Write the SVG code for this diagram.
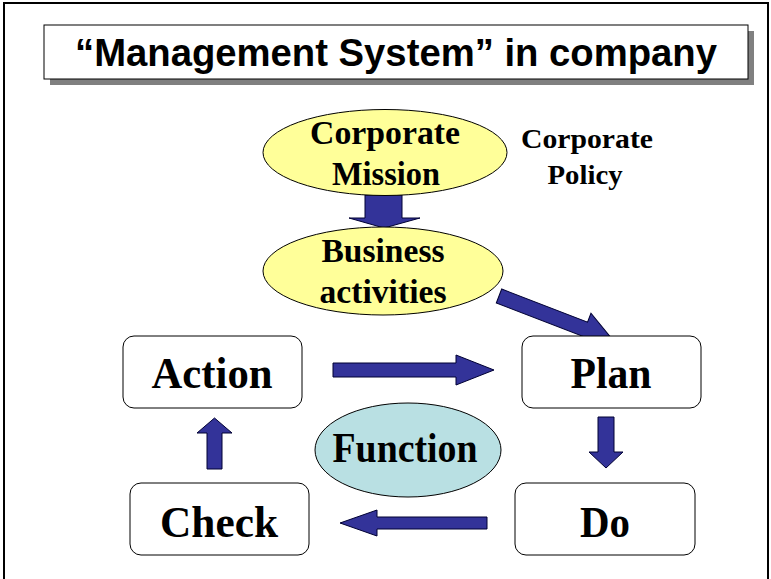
<svg xmlns="http://www.w3.org/2000/svg" width="771" height="579" viewBox="0 0 771 579">
<defs>
<style>
.box{fill:#ffffff;stroke:#000000;stroke-width:1}
.yel{fill:#ffff99;stroke:#000000;stroke-width:1}
.cyan{fill:#b9e0e3;stroke:#000000;stroke-width:1}
.arr{fill:#333399;stroke:#000033;stroke-width:1;stroke-linejoin:miter}
.t{font-family:"Liberation Serif","Times New Roman",serif;font-weight:bold;text-anchor:middle;fill:#000000}
.title{font-family:"Liberation Sans",Arial,sans-serif;font-weight:bold;font-size:38px;text-anchor:middle;fill:#000000}
</style>
</defs>
<rect x="0" y="0" width="771" height="579" fill="#ffffff"/>
<rect x="4" y="3" width="764" height="600" fill="none" stroke="#000000" stroke-width="2"/>

<g id="title">
<rect x="50" y="31" width="704" height="54" fill="#808080"/>
<rect x="44" y="25" width="704" height="54" class="box"/>
<text x="396" y="66" class="title" textLength="642" lengthAdjust="spacingAndGlyphs">“Management System” in company</text>
</g>

<g id="connectors">
<polygon class="arr" points="365,195 402,195 402,218 420,218 384,228 349,218 365,218"/>
<g transform="translate(499,296) rotate(21.1)">
<polygon class="arr" points="0,-7.5 92,-7.5 92,-17 122,0 92,17 92,7.5 0,7.5"/>
</g>
<polygon class="arr" points="333,363 456,363 456,355 494,370 456,385 456,377 333,377"/>
<polygon class="arr" points="598,417 614,417 614,452 623,452 606,468 589,452 598,452"/>
<polygon class="arr" points="487,517 377,517 377,510 340,523 377,536 377,529 487,529"/>
<polygon class="arr" points="207,469 207,433 197,433 214.5,418 232,433 222,433 222,469"/>
</g>

<g id="corporate-mission">
<ellipse cx="385" cy="152.5" rx="122" ry="43" class="yel"/>
<text x="385" y="144" class="t" font-size="33" textLength="150" lengthAdjust="spacingAndGlyphs">Corporate</text>
<text x="386" y="185" class="t" font-size="33" textLength="108" lengthAdjust="spacingAndGlyphs">Mission</text>
</g>

<g id="corporate-policy">
<text x="587" y="148" class="t" font-size="28" textLength="132" lengthAdjust="spacingAndGlyphs">Corporate</text>
<text x="585" y="184" class="t" font-size="28" textLength="75" lengthAdjust="spacingAndGlyphs">Policy</text>
</g>

<g id="business-activities">
<ellipse cx="383" cy="271" rx="120" ry="44" class="yel"/>
<text x="383" y="262" class="t" font-size="34" textLength="123" lengthAdjust="spacingAndGlyphs">Business</text>
<text x="383" y="303" class="t" font-size="34" textLength="127" lengthAdjust="spacingAndGlyphs">activities</text>
</g>

<g id="action">
<rect x="123" y="336" width="179" height="72" rx="11" class="box"/>
<text x="212" y="388" class="t" font-size="44" textLength="121" lengthAdjust="spacingAndGlyphs">Action</text>
</g>

<g id="plan">
<rect x="522" y="336" width="179" height="72" rx="11" class="box"/>
<text x="611" y="388" class="t" font-size="44" textLength="81" lengthAdjust="spacingAndGlyphs">Plan</text>
</g>

<g id="function">
<ellipse cx="408" cy="450" rx="93" ry="47" class="cyan"/>
<text x="405" y="462" class="t" font-size="42" textLength="145" lengthAdjust="spacingAndGlyphs">Function</text>
</g>

<g id="check">
<rect x="130" y="483" width="179" height="72" rx="11" class="box"/>
<text x="219" y="537" class="t" font-size="44" textLength="118" lengthAdjust="spacingAndGlyphs">Check</text>
</g>

<g id="do">
<rect x="515" y="483" width="180" height="72" rx="11" class="box"/>
<text x="605" y="537" class="t" font-size="44" textLength="50" lengthAdjust="spacingAndGlyphs">Do</text>
</g>
</svg>
